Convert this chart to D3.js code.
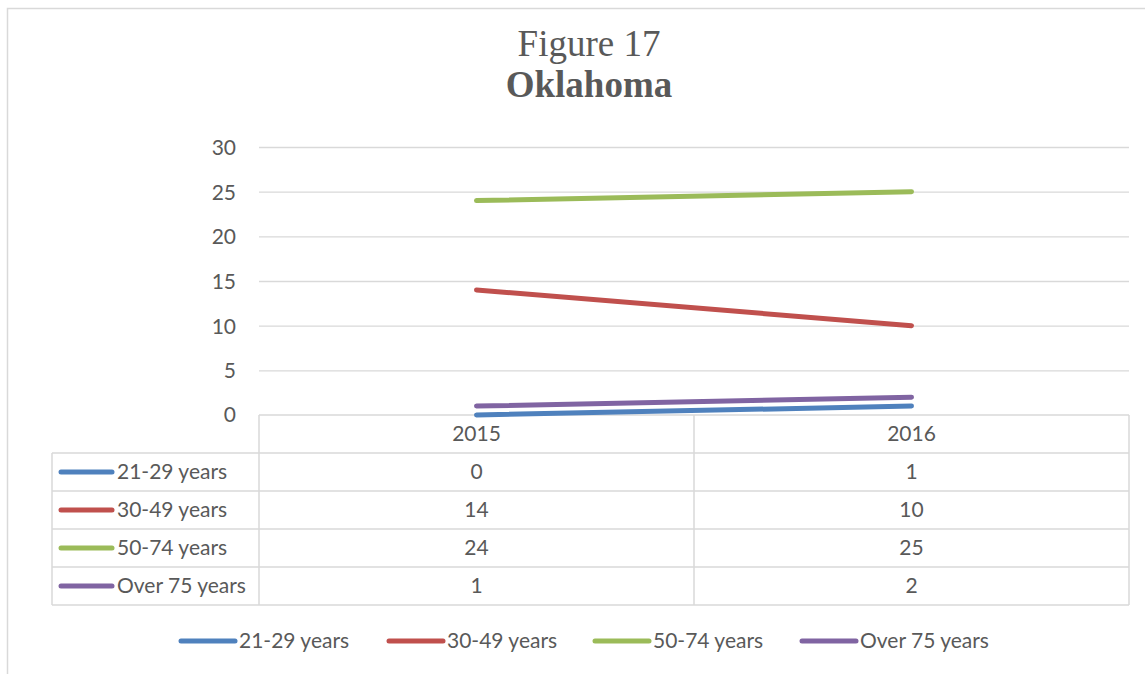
<!DOCTYPE html>
<html>
<head>
<meta charset="utf-8">
<script src="https://cdn.jsdelivr.net/npm/d3@7"></script>
<style>
  body { margin: 0; background: #fff; }
  .axis path { display: none; }
  .axis line { stroke: #d9d9d9; stroke-width: 1.3; }
  .axis text { fill: #595959; font-family: Lato, "Open Sans", sans-serif; font-size: 21px; }
</style>
</head>
<body>
<div id="root"></div>
<script>
var years = ["2015", "2016"];
var seriesNames = ["21-29 years", "30-49 years", "50-74 years", "Over 75 years"];
var age2129 = [0, 1];
var age3049 = [14, 10];
var age5074 = [24, 25];
var over75 = [1, 2];
var yTicks = [0, 5, 10, 15, 20, 25, 30];
var colors = ["#4f81bd", "#c0504d", "#9bbb59", "#8064a2"];

var series = [age2129, age3049, age5074, over75].map(function(v, i) {
  return { name: seriesNames[i], values: v, color: colors[i] };
});

var w = 1145, h = 674;
var plot = { left: 259, right: 1129, top: 147, bottom: 415 };
var rowH = 38;
var tableLeft = 52;
var textFont = 'Lato, "Open Sans", sans-serif';
var fontSize = "21px";
var grey = "#595959";
var lineGrey = "#d9d9d9";

var svg = d3.select("#root").append("svg").attr("width", w).attr("height", h);

// chart area border (runs off the right and bottom edges)
svg.append("rect").attr("x", 7.5).attr("y", 8.5).attr("width", w).attr("height", h)
  .attr("fill", "none").attr("stroke", lineGrey).attr("stroke-width", 1.5);

// title
svg.append("text").attr("x", 589).attr("y", 56).attr("text-anchor", "middle")
  .style("font-family", '"Liberation Serif", "Times New Roman", serif').style("font-size", "37px")
  .attr("fill", grey).text("Figure 17");
svg.append("text").attr("x", 589).attr("y", 97).attr("text-anchor", "middle")
  .style("font-family", '"Liberation Serif", "Times New Roman", serif').style("font-size", "37px")
  .style("font-weight", "bold").attr("fill", grey).text("Oklahoma");

var xScale = d3.scaleBand().domain(years).range([plot.left, plot.right]);
var yScale = d3.scaleLinear().domain([0, 30]).range([plot.bottom, plot.top]);

// y axis with gridlines
var yAxis = d3.axisLeft(yScale).tickValues(yTicks.slice(1)).tickSize(-(plot.right - plot.left)).tickPadding(23);
svg.append("g").attr("class", "axis").attr("transform", "translate(" + plot.left + ",0)").call(yAxis)
  .selectAll("text").attr("dy", "0.35em");
// zero label (its line is the table top)
svg.append("text").attr("x", plot.left - 23).attr("y", yScale(0)).attr("dy", "0.35em")
  .attr("text-anchor", "end").style("font-family", textFont).style("font-size", fontSize)
  .attr("fill", grey).text("0");

// data table grid
var g = svg.append("g").attr("stroke", lineGrey).attr("stroke-width", 1.5).attr("fill", "none");
g.append("line").attr("x1", plot.left).attr("x2", plot.right).attr("y1", plot.bottom).attr("y2", plot.bottom);
d3.range(1, series.length + 2).forEach(function(i) {
  var y = plot.bottom + i * rowH;
  g.append("line").attr("x1", tableLeft).attr("x2", plot.right).attr("y1", y).attr("y2", y);
});
var tableBottom = plot.bottom + (series.length + 1) * rowH;
g.append("line").attr("x1", tableLeft).attr("x2", tableLeft).attr("y1", plot.bottom + rowH).attr("y2", tableBottom);
[plot.left].concat(years.map(function(d) { return xScale(d) + xScale.bandwidth(); })).forEach(function(x) {
  g.append("line").attr("x1", x).attr("x2", x).attr("y1", plot.bottom).attr("y2", tableBottom);
});

// header row
svg.selectAll(".yearLabel").data(years).enter().append("text")
  .attr("x", function(d) { return xScale(d) + xScale.bandwidth() / 2; })
  .attr("y", plot.bottom + rowH / 2).attr("dy", "0.35em").attr("text-anchor", "middle")
  .style("font-family", textFont).style("font-size", fontSize).attr("fill", grey)
  .text(function(d) { return d; });

// table rows
series.forEach(function(s, i) {
  var cy = plot.bottom + (i + 1.5) * rowH;
  svg.append("line").attr("x1", 61).attr("x2", 112).attr("y1", cy).attr("y2", cy)
    .attr("stroke", s.color).attr("stroke-width", 5).attr("stroke-linecap", "round");
  svg.append("text").attr("x", 117).attr("y", cy).attr("dy", "0.35em")
    .style("font-family", textFont).style("font-size", fontSize).attr("fill", grey).text(s.name);
  s.values.forEach(function(v, j) {
    svg.append("text").attr("x", xScale(years[j]) + xScale.bandwidth() / 2).attr("y", cy).attr("dy", "0.35em")
      .attr("text-anchor", "middle").style("font-family", textFont).style("font-size", fontSize)
      .attr("fill", grey).text(v);
  });
});

// lines
var line = d3.line()
  .x(function(d, i) { return xScale(years[i]) + xScale.bandwidth() / 2; })
  .y(function(d) { return yScale(d); });
svg.selectAll(".series").data(series).enter().append("path")
  .attr("d", function(d) { return line(d.values); })
  .attr("fill", "none").attr("stroke", function(d) { return d.color; })
  .attr("stroke-width", 5).attr("stroke-linecap", "round");

// legend
var legendX = [181, 389, 595, 802];
series.forEach(function(s, i) {
  var ly = 641;
  svg.append("line").attr("x1", legendX[i]).attr("x2", legendX[i] + 54).attr("y1", ly).attr("y2", ly)
    .attr("stroke", s.color).attr("stroke-width", 5).attr("stroke-linecap", "round");
  svg.append("text").attr("x", legendX[i] + 58).attr("y", ly).attr("dy", "0.35em")
    .style("font-family", textFont).style("font-size", fontSize).attr("fill", grey).text(s.name);
});
</script>
</body>
</html>
